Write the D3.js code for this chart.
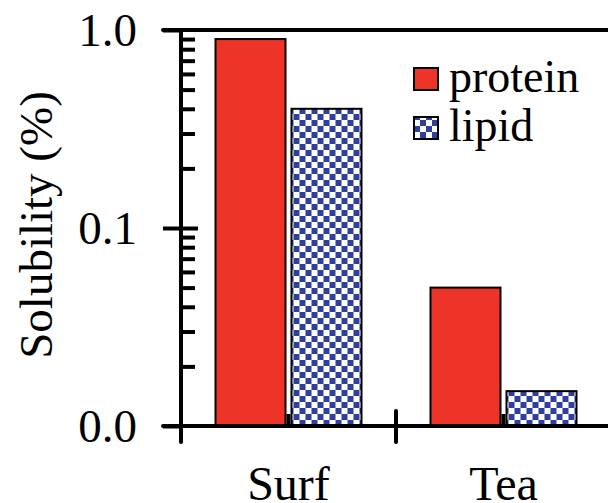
<!DOCTYPE html>
<html>
<head>
<meta charset="utf-8">
<script src="https://cdn.jsdelivr.net/npm/d3@7"></script>
<style>
  html, body { margin: 0; padding: 0; background: #fff; }
  svg { display: block; }
</style>
</head>
<body>
<svg id="chart" width="608" height="503"></svg>
<script>
// Solubility of protein and lipid fractions in two samples
const categories = ["Surf", "Tea"];
const series = ["protein", "lipid"];
const protein = [0.9, 0.05];
const lipid = [0.4, 0.015];
const yTickValues = [1, 0.1, 0.01];
const yTickLabels = ["1.0", "0.1", "0.0"];
const yMinorValues = [0.02, 0.03, 0.04, 0.05, 0.06, 0.07, 0.08, 0.09,
                      0.2, 0.3, 0.4, 0.5, 0.6, 0.7, 0.8, 0.9];

const FONT = "Liberation Serif";
const colors = { protein: "#ee3329", lipidBlue: "#2f3f9f" };
const values = { protein, lipid };

const svg = d3.select("#chart").attr("font-family", FONT);
const plotLeft = 181, plotRight = 611, plotTop = 30, plotBottom = 426;

const x = d3.scaleBand().domain(categories).range([plotLeft, plotRight]).padding(0);
const xs = d3.scaleBand().domain(series).range([0, 146]).paddingInner(6 / 76).paddingOuter(0);
const y = d3.scaleLog().domain([0.01, 1]).range([plotBottom, plotTop]);

// checkerboard fill for the lipid series
const defs = svg.append("defs");
const pat = defs.append("pattern")
  .attr("id", "checker").attr("patternUnits", "userSpaceOnUse")
  .attr("width", 12).attr("height", 12);
pat.append("rect").attr("width", 12).attr("height", 12).attr("fill", "#fff");
pat.append("rect").attr("x", 0).attr("y", 0).attr("width", 6).attr("height", 6).attr("fill", colors.lipidBlue);
pat.append("rect").attr("x", 6).attr("y", 6).attr("width", 6).attr("height", 6).attr("fill", colors.lipidBlue);

const fillFor = s => s === "protein" ? colors.protein : "url(#checker)";

// inward center ticks on the category axis (drawn under the bars)
const xAxis = d3.axisBottom(x).tickSize(-12).tickPadding(40).tickFormat(d => d);
const gx = svg.append("g").attr("transform", `translate(0,${plotBottom})`).call(xAxis)
  .attr("font-family", FONT);
gx.select(".domain").remove();
gx.selectAll(".tick line").attr("stroke", "#000").attr("stroke-width", 4);
gx.selectAll(".tick text").attr("font-size", 48).attr("fill", "#000");

// bars
const groups = svg.append("g").selectAll("g")
  .data(categories).join("g")
  .attr("transform", d => `translate(${x(d) + x.bandwidth() / 2 - 73},0)`);
groups.selectAll("rect")
  .data((c, i) => series.map(s => ({ s, v: values[s][i] })))
  .join("rect")
  .attr("x", d => xs(d.s))
  .attr("width", xs.bandwidth())
  .attr("y", d => y(d.v))
  .attr("height", d => y(0.01) - y(d.v))
  .attr("fill", d => fillFor(d.s))
  .attr("stroke", "#000").attr("stroke-width", 2);

// y axis: major labels with outward ticks
const yAxis = d3.axisLeft(y).tickValues(yTickValues).tickSize(18).tickPadding(26)
  .tickFormat((d, i) => yTickLabels[i]);
const gy = svg.append("g").attr("transform", `translate(${plotLeft},0)`).call(yAxis)
  .attr("font-family", FONT);
gy.select(".domain").remove();
gy.selectAll(".tick line").attr("stroke", "#000").attr("stroke-width", 4);
gy.selectAll(".tick text").attr("font-size", 47).attr("fill", "#000").attr("dy", "0.34em");

// inward minor ticks and the inner part of the 0.1 tick
const gyMinor = svg.append("g").attr("transform", `translate(${plotLeft},0)`)
  .call(d3.axisRight(y).tickValues(yMinorValues).tickSize(14).tickFormat(""));
gyMinor.select(".domain").remove();
gyMinor.selectAll(".tick line").attr("stroke", "#000").attr("stroke-width", 4);
const gyMajorIn = svg.append("g").attr("transform", `translate(${plotLeft},0)`)
  .call(d3.axisRight(y).tickValues([0.1]).tickSize(17).tickFormat(""));
gyMajorIn.select(".domain").remove();
gyMajorIn.selectAll(".tick line").attr("stroke", "#000").attr("stroke-width", 4);

// frame lines
const frame = svg.append("g").attr("stroke", "#000").attr("stroke-width", 4).attr("stroke-linecap", "round");
frame.append("line").attr("x1", 163).attr("x2", plotRight + 10).attr("y1", plotTop).attr("y2", plotTop);
frame.append("line").attr("x1", 163).attr("x2", plotRight + 10).attr("y1", plotBottom).attr("y2", plotBottom);
frame.append("line").attr("x1", plotLeft).attr("x2", plotLeft).attr("y1", plotTop).attr("y2", plotBottom + 16);
// category boundary ticks crossing the x axis
frame.selectAll(".bound").data(categories.slice(1)).join("line")
  .attr("x1", d => x(d)).attr("x2", d => x(d))
  .attr("y1", plotBottom - 15).attr("y2", plotBottom + 16);

// y axis title
svg.append("text")
  .attr("transform", `translate(52,225) rotate(-90)`)
  .attr("text-anchor", "middle")
  .attr("font-family", FONT)
  .attr("font-size", 47)
  .text("Solubility (%)");

// legend
const legend = svg.append("g");
const legendRows = [
  { s: "protein", y: 68 },
  { s: "lipid", y: 117 }
];
legend.selectAll("rect").data(legendRows).join("rect")
  .attr("x", 414).attr("y", d => d.y).attr("width", 24).attr("height", 22)
  .attr("fill", d => fillFor(d.s)).attr("stroke", "#000").attr("stroke-width", 2);
legend.selectAll("text").data(legendRows).join("text")
  .attr("x", 449).attr("y", d => d.y + 24)
  .attr("font-family", FONT)
  .attr("font-size", 46)
  .text(d => d.s);
</script>
</body>
</html>
